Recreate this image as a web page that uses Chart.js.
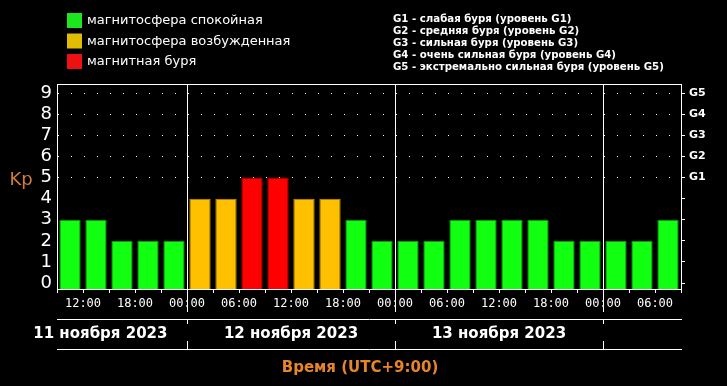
<!DOCTYPE html>
<html lang="ru">
<head>
    <meta charset="UTF-8">
    <title>Kp индекс</title>
    <script src="https://cdn.jsdelivr.net/npm/chart.js"></script>
    <style>
        html, body {
            margin: 0;
            padding: 0;
            background: #000;
        }
        #wrap {
            width: 727px;
            height: 386px;
        }
    </style>
</head>
<body>
    <div id="wrap">
        <canvas id="kp" width="727" height="386"></canvas>
    </div>

    <script>
        // 3-hour Kp values, starting 11 Nov 2023 09:00 (UTC+9)
        const kpValues = [3, 3, 2, 2, 2, 4, 4, 5, 5, 4, 4, 3, 2, 2, 2, 3, 3, 3, 3, 2, 2, 2, 2, 3];
        const START_HOUR = 9;
        const SLOT = 3;

        const timeTickLabels = ['', '12:00', '', '18:00', '', '00:00', '', '06:00', '', '12:00', '', '18:00', '',
            '00:00', '', '06:00', '', '12:00', '', '18:00', '', '00:00', '', '06:00', ''];
        const kpTicks = [0, 1, 2, 3, 4, 5, 6, 7, 8, 9];
        const gLabels = ['', '', '', '', '', 'G1', 'G2', 'G3', 'G4', 'G5'];

        const dayLabels = ['11 ноября 2023', '12 ноября 2023', '13 ноября 2023'];
        const dayLabelHours = [14, 36, 60];
        const dayBreaks = [24, 48, 72];

        const legendItems = [
            { text: 'магнитосфера спокойная', color: '#1ee61e' },
            { text: 'магнитосфера возбужденная', color: '#e0bd00' },
            { text: 'магнитная буря', color: '#ee1111' }
        ];
        const stormLevels = [
            'G1 - слабая буря (уровень G1)',
            'G2 - средняя буря (уровень G2)',
            'G3 - сильная буря (уровень G3)',
            'G4 - очень сильная буря (уровень G4)',
            'G5 - экстремально сильная буря (уровень G5)'
        ];

        const Y_MIN = -0.28;
        const Y_MAX = 9.43;

        function barColor(v) {
            if (v >= 5) return '#ff0000';
            if (v >= 4) return '#ffc000';
            return '#11ff11';
        }
        function barBorder(v) {
            if (v >= 5) return '#b00000';
            if (v >= 4) return '#c09000';
            return '#0c9a0c';
        }

        const points = kpValues.map((v, i) => ({ x: START_HOUR + SLOT * i + SLOT / 2, y: v }));

        const extras = {
            id: 'extras',
            afterDraw(chart) {
                const c = chart.ctx;
                const a = chart.chartArea;
                const xs = chart.scales.x;
                c.save();

                // top edge of the plot box
                c.strokeStyle = '#fff';
                c.lineWidth = 1;
                c.beginPath();
                c.moveTo(a.left, a.top + 0.5);
                c.lineTo(a.right, a.top + 0.5);
                c.stroke();

                // date band
                const y1 = 319.5, y2 = 349.5;
                c.beginPath();
                c.moveTo(a.left, y1); c.lineTo(a.right + 1, y1);
                c.moveTo(a.left, y2); c.lineTo(a.right + 1, y2);
                dayBreaks.forEach(h => {
                    const px = Math.round(xs.getPixelForValue(h)) + 0.5;
                    c.moveTo(px, a.bottom); c.lineTo(px, 312);
                    c.moveTo(px, y1); c.lineTo(px, 324);
                    c.moveTo(px, 341); c.lineTo(px, y2);
                });
                c.stroke();

                c.fillStyle = '#fff';
                c.font = 'bold 15px "DejaVu Sans"';
                c.textAlign = 'center';
                c.textBaseline = 'middle';
                dayLabels.forEach((t, i) => {
                    c.fillText(t, xs.getPixelForValue(dayLabelHours[i]), 334);
                });

                // axis titles
                c.fillStyle = '#e8852a';
                c.font = 'bold 15px "DejaVu Sans"';
                c.fillText('Время (UTC+9:00)', 360, 368);
                c.fillStyle = '#cf7d3c';
                c.font = '18px "DejaVu Sans"';
                c.fillText('Kp', 21, 180);

                // legend
                c.textAlign = 'left';
                c.font = '13px "DejaVu Sans"';
                legendItems.forEach((it, i) => {
                    const cy = 20 + i * 20.5;
                    c.fillStyle = it.color;
                    c.fillRect(67, cy - 7, 15, 15);
                    c.fillStyle = '#fff';
                    c.fillText(it.text, 87, cy + 1);
                });

                c.font = 'bold 10.2px "DejaVu Sans"';
                stormLevels.forEach((t, i) => {
                    c.fillText(t, 393, 19 + i * 12);
                });

                c.restore();
            }
        };

        new Chart(document.getElementById('kp'), {
            type: 'bar',
            data: {
                datasets: [{
                    label: 'Kp',
                    data: points,
                    base: Y_MIN,
                    backgroundColor: ctx => barColor(ctx.raw ? ctx.raw.y : 0),
                    borderColor: ctx => barBorder(ctx.raw ? ctx.raw.y : 0),
                    borderWidth: 1,
                    barPercentage: 0.82,
                    categoryPercentage: 1
                }]
            },
            options: {
                responsive: false,
                animation: false,
                devicePixelRatio: 1,
                layout: { padding: { top: 84 } },
                plugins: {
                    legend: { display: false },
                    tooltip: { enabled: false }
                },
                scales: {
                    x: {
                        type: 'linear',
                        offset: false,
                        min: START_HOUR,
                        max: START_HOUR + SLOT * kpValues.length,
                        afterBuildTicks: s => {
                            s.ticks = timeTickLabels.map((_, i) => ({ value: START_HOUR + SLOT * i }));
                        },
                        afterFit: s => { s.height = 97; },
                        grid: {
                            offset: false,
                            color: ctx => (ctx.tick && ctx.tick.value % 24 === 0) ? '#fff' : 'rgba(0,0,0,0)',
                            tickColor: '#fff',
                            tickLength: 4
                        },
                        border: { color: '#fff' },
                        ticks: {
                            autoSkip: false,
                            maxRotation: 0,
                            minRotation: 0,
                            padding: 4,
                            color: '#fff',
                            font: { family: '"DejaVu Sans Mono"', size: 12 },
                            callback: (v, i) => timeTickLabels[i]
                        }
                    },
                    y: {
                        position: 'left',
                        min: Y_MIN,
                        max: Y_MAX,
                        afterBuildTicks: s => { s.ticks = kpTicks.map(v => ({ value: v })); },
                        afterFit: s => { s.width = 57; },
                        grid: {
                            color: ctx => (ctx.tick && ctx.tick.value >= 5) ? '#fff' : 'rgba(0,0,0,0)',
                            drawTicks: false
                        },
                        border: { color: '#fff', dash: [1, 12] },
                        ticks: {
                            autoSkip: false,
                            padding: 5,
                            color: '#fff',
                            font: { family: '"DejaVu Sans"', size: 18 },
                            callback: v => String(v)
                        }
                    },
                    g: {
                        position: 'right',
                        min: Y_MIN,
                        max: Y_MAX,
                        afterBuildTicks: s => { s.ticks = kpTicks.map(v => ({ value: v })); },
                        afterFit: s => { s.width = 46; },
                        grid: {
                            drawOnChartArea: false,
                            tickColor: '#fff',
                            tickLength: 4
                        },
                        border: { color: '#fff' },
                        ticks: {
                            autoSkip: false,
                            padding: 4,
                            color: '#fff',
                            font: { family: '"DejaVu Sans"', size: 11, weight: 'bold' },
                            callback: (v, i) => gLabels[i]
                        }
                    }
                }
            },
            plugins: [extras]
        });
    </script>
</body>
</html>
